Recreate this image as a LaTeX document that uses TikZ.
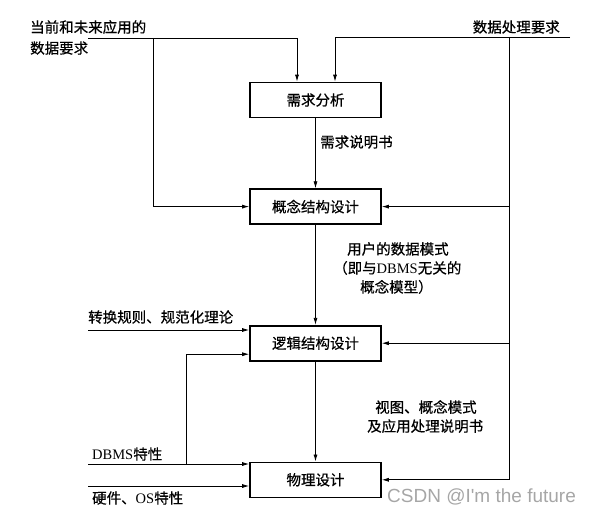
\documentclass[tikz,border=0pt]{standalone}
\usepackage{fontspec}
\setmainfont{Liberation Serif}
\newfontfamily\cjk[FakeBold=0.6]{Noto Sans CJK SC}
\newfontfamily\wmfont{Liberation Sans}
\usetikzlibrary{arrows.meta,positioning}

\begin{document}
\begin{tikzpicture}[
    x=1pt,y=-1pt,
    box/.style={rectangle,draw,line width=1.6pt,align=center,minimum width=131pt,minimum height=35pt,inner sep=0pt,font=\cjk\fontsize{14.5}{16}\selectfont},
    lbl/.style={align=left,inner sep=0pt,font=\cjk\fontsize{14.5}{19}\selectfont},
    arrow/.style={-{Latex[length=7pt,width=4pt]},line width=0.8pt}
]
\useasboundingbox (0,0) rectangle (591,513);
% design stages
\node[box] (req) at (315.5,100) {需求分析};
\node[box,below=70pt of req] (concept) {概念结构设计};
\node[box,below=100pt of concept] (logic) {逻辑结构设计};
\node[box,below=100pt of logic] (phys) {物理设计};
% labels
\node[lbl,anchor=west,font=\cjk\fontsize{14.5}{21}\selectfont] (appdata) at (30,37.5) {当前和未来应用的\\数据要求};
\node[lbl,anchor=east] (procreq) at (560,27) {数据处理要求};
\node[lbl,anchor=west] (reqdoc) at (320,142) {需求说明书};
\node[lbl,anchor=north west] (usermodel) at (333,242) {\hspace*{14pt}用户的数据模式\\（即与{\rmfamily DBMS}无关的\\\hspace*{27pt}概念模型）};
\node[lbl,anchor=north west] (viewdoc) at (367,400) {\hspace*{8pt}视图、概念模式\\及应用处理说明书};
\node[lbl,anchor=west] (rules) at (88,317) {转换规则、规范化理论};
\node[lbl,anchor=west] (dbms) at (92,454) {{\rmfamily DBMS}特性};
\node[lbl,anchor=west] (hw) at (92,498) {硬件、{\rmfamily OS}特性};
\node[anchor=west,inner sep=0pt,text=gray!70,font=\wmfont\fontsize{19}{22}\selectfont] (mark) at (387,497) {CSDN @I'm the future};
% free ends
\coordinate (in1) at (88,38);
\coordinate (j1) at (153,38);
\coordinate (in2) at (570,37);
\coordinate (j2) at (509,37);
\coordinate (in3) at (88,330);
\coordinate (in4) at (88,464);
\coordinate (j3) at (186,464);
\coordinate (in5) at (88,486);
% connectors
\draw[arrow] (in1) -| ([xshift=-18.5pt]req.north);
\draw[arrow] (j1) |- (concept.west);
\draw[arrow] (in2) -| ([xshift=19.5pt]req.north);
\draw[arrow] (j2) |- (phys.east);
\draw[arrow] (j2 |- concept.east) -- (concept.east);
\draw[arrow] (j2 |- logic.east) -- (logic.east);
\draw[arrow] (req) -- (concept);
\draw[arrow] (concept) -- (logic);
\draw[arrow] (logic) -- (phys);
\draw[arrow] (in3) -- (in3 -| logic.west);
\draw[arrow] (j3) |- ([yshift=-11pt]logic.west);
\draw[arrow] (in4) -- (in4 -| phys.west);
\draw[arrow] (in5) -- (in5 -| phys.west);
\end{tikzpicture}
\end{document}
